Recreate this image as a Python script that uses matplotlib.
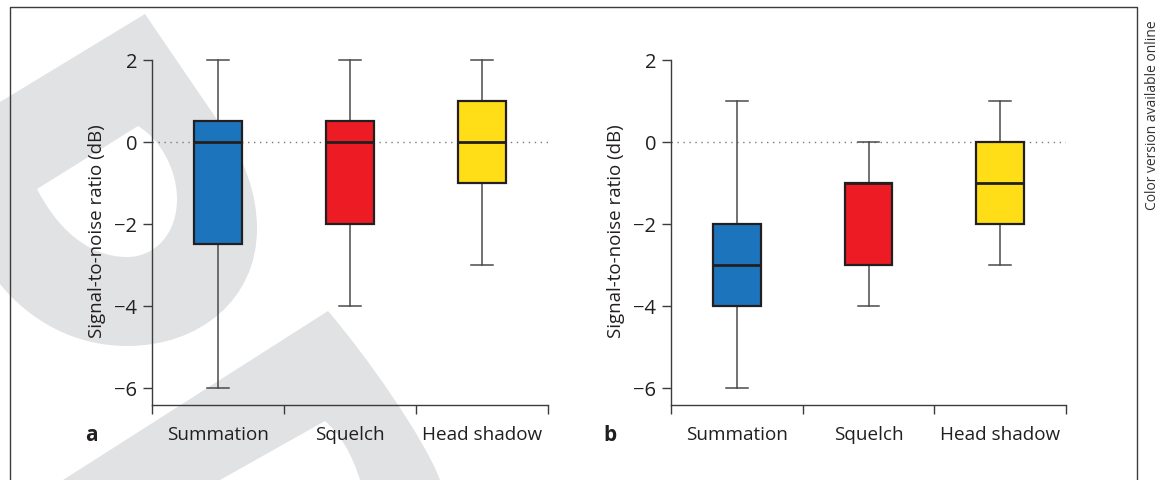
import matplotlib
matplotlib.use("Agg")
import matplotlib.pyplot as plt
from matplotlib.path import Path
from matplotlib.patches import PathPatch
from matplotlib.lines import Line2D

plt.rcParams['font.family'] = ['Open Sans', 'DejaVu Sans']

categories = ['Summation', 'Squelch', 'Head shadow']
box_colors = ['#1c75bc', '#ed1c24', '#ffde17']

# panel a: whisker ends, quartiles and medians (dB)
a_low = [-6, -4, -3]
a_q1 = [-2.5, -2, -1]
a_med = [0, 0, 0]
a_q3 = [0.5, 0.5, 1]
a_high = [2, 2, 2]

# panel b
b_low = [-6, -4, -3]
b_q1 = [-4, -3, -2]
b_med = [-3, -1, -1]
b_q3 = [-2, -1, 0]
b_high = [1, 0, 1]

yticks = [2, 0, -2, -4, -6]

W, H = 1163, 481
fig = plt.figure(figsize=(W / 100, H / 100), dpi=100)

# background layer in pixel units: watermark, frame, side note
bg = fig.add_axes([0, 0, 1, 1], zorder=0)
bg.set_xlim(0, W)
bg.set_ylim(H, 0)
bg.axis('off')

wm = '#e1e2e4'
M, L, C, Z = Path.MOVETO, Path.LINETO, Path.CURVE4, Path.CLOSEPOLY
upper_verts = [
    (0, 103), (145, 15), (220, 125),
    (245, 160), (257, 195), (257, 230),
    (257, 300), (200, 347), (127, 347),
    (75, 347), (30, 322), (0, 285),
    (0, 103),
    # hole, opposite direction
    (37, 190),
    (55, 225), (85, 258), (127, 258),
    (155, 258), (177, 235), (177, 200),
    (177, 170), (160, 140), (138, 127),
    (37, 190),
]
upper_codes = ([M, L, L] + [C] * 9 + [Z] +
               [M] + [C] * 9 + [Z])
bg.add_patch(PathPatch(Path(upper_verts, upper_codes), fc=wm, ec='none'))

lower_verts = [
    (63, 481), (328, 312),
    (365, 355), (425, 440), (440, 481),
    (360, 481),
    (352, 455), (340, 435), (325, 422),
    (220, 481),
    (63, 481),
]
lower_codes = [M, L] + [C] * 3 + [L] + [C] * 3 + [L, Z]
bg.add_patch(PathPatch(Path(lower_verts, lower_codes), fc=wm, ec='none'))

bg.add_line(Line2D([10, 10, 1137, 1137], [H, 8, 8, H], color='#3c3c3c', lw=1.0))
bg.text(1152, 115, 'Color version available online', rotation=90,
        ha='center', va='center', fontsize=10, color='#333333')
bg.text(91, 436, 'a', ha='center', va='center', fontsize=15, fontweight='bold', color='#231f20')
bg.text(610, 436, 'b', ha='center', va='center', fontsize=15, fontweight='bold', color='#231f20')


def draw_panel(ax, low, q1, med, q3, high):
    stats = []
    for i in range(len(categories)):
        stats.append({'whislo': low[i], 'q1': q1[i], 'med': med[i],
                      'q3': q3[i], 'whishi': high[i], 'fliers': []})
    ax.axhline(0, color='#7a7a7a', lw=1.0, ls=(0, (1, 3.3)), zorder=1)
    bp = ax.bxp(stats, positions=[0.5, 1.5, 2.5], widths=0.364, capwidths=0.167,
                patch_artist=True, showfliers=False,
                boxprops=dict(edgecolor='#231f20', linewidth=1.6),
                medianprops=dict(color='#231f20', linewidth=2.0),
                whiskerprops=dict(color='#4a4a4a', linewidth=1.1),
                capprops=dict(color='#4a4a4a', linewidth=1.1))
    for patch, col in zip(bp['boxes'], box_colors):
        patch.set_facecolor(col)
        patch.set_zorder(3)
    for m in bp['medians']:
        m.set_zorder(4)

    ax.set_facecolor('none')
    ax.set_xlim(0, 3)
    ax.set_ylim(-6.42, 2.1)
    for s in ['top', 'right']:
        ax.spines[s].set_visible(False)
    for s in ['left', 'bottom']:
        ax.spines[s].set_color('#3c3c3c')
        ax.spines[s].set_linewidth(1.0)
    ax.spines['left'].set_bounds(-6.42, 2)

    ax.set_yticks(yticks)
    ax.set_yticklabels([str(v).replace('-', '\u2212') for v in yticks])
    ax.tick_params(axis='y', length=6.5, width=1.0, color='#3c3c3c', pad=4,
                   labelsize=14.5, labelcolor='#231f20')
    ax.set_xticks([0, 1, 2, 3])
    ax.set_xticklabels([])
    ax.set_xticks([0.5, 1.5, 2.5], minor=True)
    ax.set_xticklabels(categories, minor=True)
    ax.tick_params(axis='x', which='major', length=6.5, width=1.0, color='#3c3c3c')
    ax.tick_params(axis='x', which='minor', length=0, pad=14,
                   labelsize=13.6, labelcolor='#231f20')

    ax.set_ylabel('Signal-to-noise ratio (dB)', fontsize=13.5, color='#231f20')
    ax.yaxis.set_label_coords(-0.117, 0.5)


ax_a = fig.add_axes([152 / W, 1 - 406.2 / H, 396 / W, (406.2 - 56.9) / H], zorder=1)
draw_panel(ax_a, a_low, a_q1, a_med, a_q3, a_high)

ax_b = fig.add_axes([671 / W, 1 - 406.2 / H, 395 / W, (406.2 - 56.9) / H], zorder=1)
draw_panel(ax_b, b_low, b_q1, b_med, b_q3, b_high)

fig.savefig('out.png', dpi=100)
